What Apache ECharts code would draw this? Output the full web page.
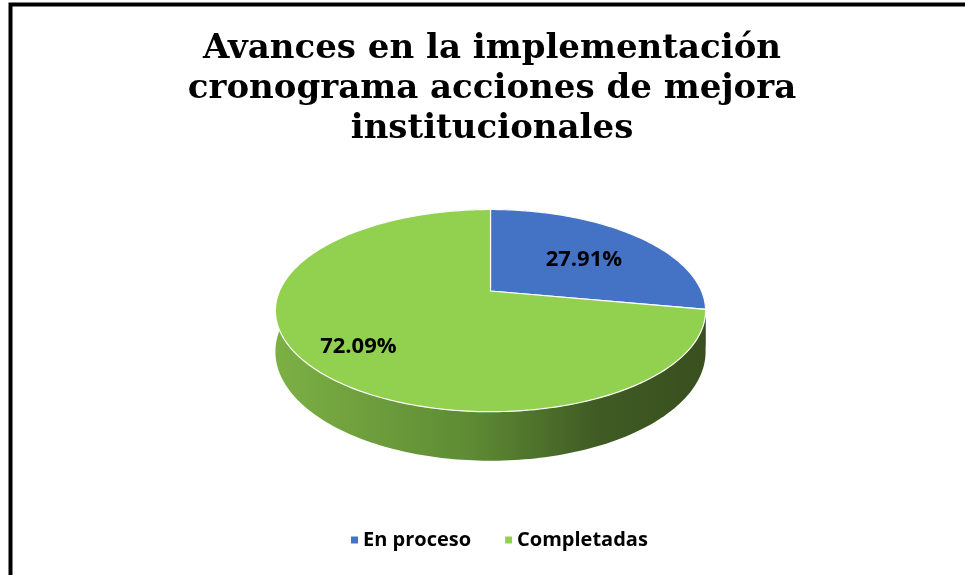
<!DOCTYPE html>
<html>
<head>
<meta charset="utf-8">
<script src="https://cdn.jsdelivr.net/npm/echarts@6/dist/echarts.min.js"></script>
<style>
  html, body { margin: 0; padding: 0; background: #fff; }
  #chart { width: 965px; height: 575px; }
</style>
</head>
<body>
<div id="chart"></div>
<script>
// data
const categories = ["En proceso", "Completadas"];
const values = [27.91, 72.09];
const colors = ["#4472C4", "#92D050"];

// pie geometry (tilted disc with a bit of perspective)
const CX = 490.5, CY = 291;
const RX = 211, RY = 97.3;
const K = 0.194;        // perspective strength
const DEPTH = 39.5;     // thickness of the disc
const LABEL_R = [0.62, 0.74];

const total = values.reduce((a, b) => a + b, 0);

function proj(theta, r, drop) {
  const u = r * Math.sin(theta);
  const v = -r * Math.cos(theta);
  const s = 1 / (1 - K * v);
  return [CX + RX * u * s, CY + (RY * v + drop) * s];
}

function arcPoints(a0, a1, drop) {
  const pts = [];
  const n = Math.max(8, Math.ceil((a1 - a0) / 0.02));
  for (let i = 0; i <= n; i++) {
    pts.push(proj(a0 + (a1 - a0) * i / n, 1, drop));
  }
  return pts;
}

const sideGradient = {
  type: "linear", x: 275, y: 0, x2: 706, y2: 0, global: true,
  colorStops: [
    { offset: 0, color: "#7cb044" },
    { offset: 0.45, color: "#5e8b34" },
    { offset: 0.75, color: "#3f5b23" },
    { offset: 1, color: "#394f1f" }
  ]
};

function renderSlice(idx) {
  return function (params, api) {
    let before = 0;
    for (let i = 0; i < idx; i++) before += values[i];
    const a0 = before / total * Math.PI * 2;
    const a1 = (before + api.value(0)) / total * Math.PI * 2;

    const top = arcPoints(a0, a1, 0);
    const bottom = arcPoints(a0, a1, DEPTH).reverse();
    const face = [proj(0, 0, 0)].concat(top);

    const mid = (a0 + a1) / 2;
    const lp = proj(mid, LABEL_R[idx], 0);
    const pct = (api.value(0) / total * 100).toFixed(2) + "%";

    return {
      type: "group",
      children: [
        {
          type: "polygon",
          z2: 1,
          shape: { points: top.concat(bottom) },
          style: { fill: idx === 1 ? sideGradient : "#2f4f8a", stroke: null }
        },
        {
          type: "polygon",
          z2: 5,
          shape: { points: face },
          style: { fill: colors[idx], stroke: "#ffffff", lineWidth: 1.2 }
        },
        {
          type: "text",
          z2: 10,
          x: lp[0], y: lp[1] + 5,
          style: {
            text: pct,
            fill: "#000",
            font: "bold 22px 'Open Sans'",
            align: "center",
            verticalAlign: "middle"
          }
        }
      ]
    };
  };
}

const chart = echarts.init(document.getElementById("chart"));

const option = {
  animation: false,
  title: {
    text: "Avances en la implementación\ncronograma acciones de mejora\ninstitucionales",
    left: 487,
    top: 24,
    textAlign: "center",
    textStyle: {
      fontFamily: "DejaVu Serif",
      fontWeight: "bold",
      fontSize: 34,
      lineHeight: 40,
      color: "#000"
    }
  },
  legend: {
    data: categories,
    top: 525,
    left: 346,
    icon: "rect",
    itemWidth: 7,
    itemHeight: 7,
    itemGap: 34,
    textStyle: { fontFamily: "Open Sans", fontWeight: "bold", fontSize: 20, color: "#000" }
  },
  graphic: [
    {
      type: "polyline",
      shape: { points: [[10.5, 600], [10.5, 4.5], [1000, 4.5]] },
      style: { stroke: "#000", lineWidth: 4, fill: null }
    }
  ],
  series: categories.map((name, i) => ({
    name: name,
    type: "custom",
    coordinateSystem: "none",
    color: colors[i],
    data: [values[i]],
    renderItem: renderSlice(i)
  }))
};

chart.setOption(option);
</script>
</body>
</html>
